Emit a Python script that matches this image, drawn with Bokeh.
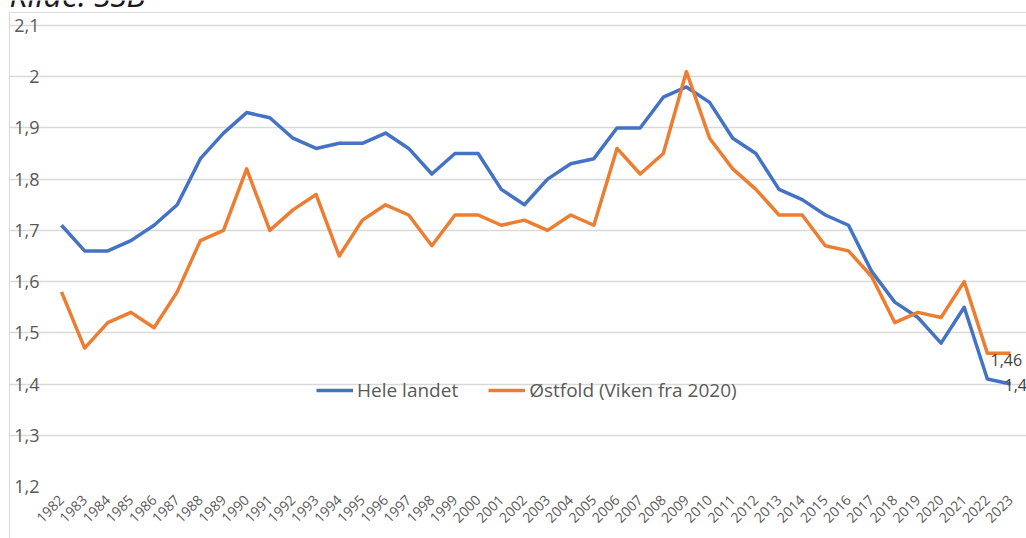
import math
from bokeh.plotting import figure
from bokeh.models import FixedTicker, Label, InlineStyleSheet
from bokeh.embed import file_html
from bokeh.resources import INLINE

years = list(range(1982, 2024))
hele_landet = [1.71, 1.66, 1.66, 1.68, 1.71, 1.75, 1.84, 1.89, 1.93, 1.92,
               1.88, 1.86, 1.87, 1.87, 1.89, 1.86, 1.81, 1.85, 1.85, 1.78,
               1.75, 1.80, 1.83, 1.84, 1.90, 1.90, 1.96, 1.98, 1.95, 1.88,
               1.85, 1.78, 1.76, 1.73, 1.71, 1.62, 1.56, 1.53, 1.48, 1.55,
               1.41, 1.40]
ostfold = [1.58, 1.47, 1.52, 1.54, 1.51, 1.58, 1.68, 1.70, 1.82, 1.70,
           1.74, 1.77, 1.65, 1.72, 1.75, 1.73, 1.67, 1.73, 1.73, 1.71,
           1.72, 1.70, 1.73, 1.71, 1.86, 1.81, 1.85, 2.01, 1.88, 1.82,
           1.78, 1.73, 1.73, 1.67, 1.66, 1.61, 1.52, 1.54, 1.53, 1.60,
           1.46, 1.46]
series_names = ["Hele landet", "Østfold (Viken fra 2020)"]
y_ticks = [1.2, 1.3, 1.4, 1.5, 1.6, 1.7, 1.8, 1.9, 2.0, 2.1]
y_tick_labels = ["1,2", "1,3", "1,4", "1,5", "1,6", "1,7", "1,8", "1,9", "2", "2,1"]
x_tick_labels = [str(y) for y in years]
source_text = "Kilde: SSB"

BLUE = "#4472C4"
ORANGE = "#ED7D31"
TXT = "#595959"
FONT = "Open Sans"

W, H = 1026, 538
# pixel layout of the plot area (page coordinates)
PL, PR, PT, PB = 61, 1010, 25, 486     # where first/last year and top/bottom ticks sit
FL, FT = 9, 0                          # frame extends to the chart border / top
sx = (PR - PL) / (years[-1] - years[0])
sy = (PB - PT) / (y_ticks[-1] - y_ticks[0])
x_start = years[0] - (PL - FL) / sx
x_end = years[-1] + (W - PR) / sx
y_end = y_ticks[-1] + (PT - FT) / sy


def fmt(v):
    s = ("%.2f" % v).rstrip("0").rstrip(".")
    return s.replace(".", ",")


p = figure(width=W, height=H, output_backend="svg", toolbar_location=None,
           x_range=(x_start, x_end), y_range=(y_ticks[0], y_end),
           min_border_left=FL, min_border_right=0, min_border_top=FT,
           min_border_bottom=H - PB)
p.outline_line_color = None
p.background_fill_color = "white"
p.border_fill_color = "white"

p.xaxis.ticker = FixedTicker(ticks=years)
p.xaxis.major_label_overrides = {y: l for y, l in zip(years, x_tick_labels)}
p.xaxis.major_label_orientation = math.pi / 4
p.xaxis.axis_line_color = None
p.xaxis.major_tick_line_color = None
p.xaxis.minor_tick_line_color = None
p.xaxis.major_label_text_font = FONT
p.xaxis.major_label_text_font_size = "14px"
p.xaxis.major_label_text_color = TXT
p.xaxis.major_label_standoff = 5

p.yaxis.ticker = FixedTicker(ticks=y_ticks)
p.yaxis.major_label_overrides = {t: l for t, l in zip(y_ticks, y_tick_labels)}
p.yaxis.axis_line_color = None
p.yaxis.major_tick_line_color = None
p.yaxis.minor_tick_line_color = None
p.yaxis.major_tick_out = 0
p.yaxis.major_tick_in = 0
p.yaxis.major_label_text_font = FONT
p.yaxis.major_label_text_font_size = "18px"
p.yaxis.major_label_text_color = TXT
# labels end about 22px left of the first year -> inside the widened frame
p.yaxis.major_label_standoff = -(PL - 22 - FL)

p.xgrid.grid_line_color = None
p.ygrid.ticker = FixedTicker(ticks=y_ticks)
p.ygrid.bounds = (years[0], years[-1])
p.ygrid.grid_line_color = "#d9d9d9"
p.ygrid.grid_line_width = 1.5

p.line(years, hele_landet, color=BLUE, line_width=3.5, line_join="round",
       legend_label=series_names[0])
p.line(years, ostfold, color=ORANGE, line_width=3.5, line_join="round",
       legend_label=series_names[1])

lg = p.legend[0]
lg.orientation = "horizontal"
lg.location = (316 - FL, 83)
lg.border_line_color = None
lg.background_fill_alpha = 0
lg.padding = 0
lg.margin = 0
lg.glyph_width = 37
lg.glyph_height = 20
lg.label_standoff = 4
lg.spacing = 30
lg.label_text_font = FONT
lg.label_text_font_size = "19px"
lg.label_text_color = TXT
lg.label_height = 20

# data labels for last values
p.add_layout(Label(x=years[-1], y=ostfold[-1], text=fmt(ostfold[-1]),
                   x_offset=-20, y_offset=-7, text_baseline="middle",
                   text_font=FONT, text_font_size="16px", text_color="#404040"))
p.add_layout(Label(x=years[-1], y=hele_landet[-1], text=fmt(hele_landet[-1]),
                   x_offset=-6, y_offset=-1, text_baseline="middle",
                   text_font=FONT, text_font_size="16px", text_color="#404040"))

# source title (cut off at the top as in the original)
p.add_layout(Label(x=9 - FL, y=PB + 6, x_units="screen", y_units="screen",
                   text=source_text, text_baseline="alphabetic",
                   text_font=FONT, text_font_style="italic",
                   text_font_size="32px", text_color="#1a1a1a"))

# faint chart-area border (left and top edges visible)
p.stylesheets = [InlineStyleSheet(css="""
:host::after {
  content: "";
  position: absolute;
  left: 9px; top: 12px; right: 0; bottom: 0;
  border-left: 1.5px solid #d9d9d9;
  border-top: 1.5px solid #d9d9d9;
  pointer-events: none;
}
""")]

open("out.html", "w").write(file_html(p, INLINE))
